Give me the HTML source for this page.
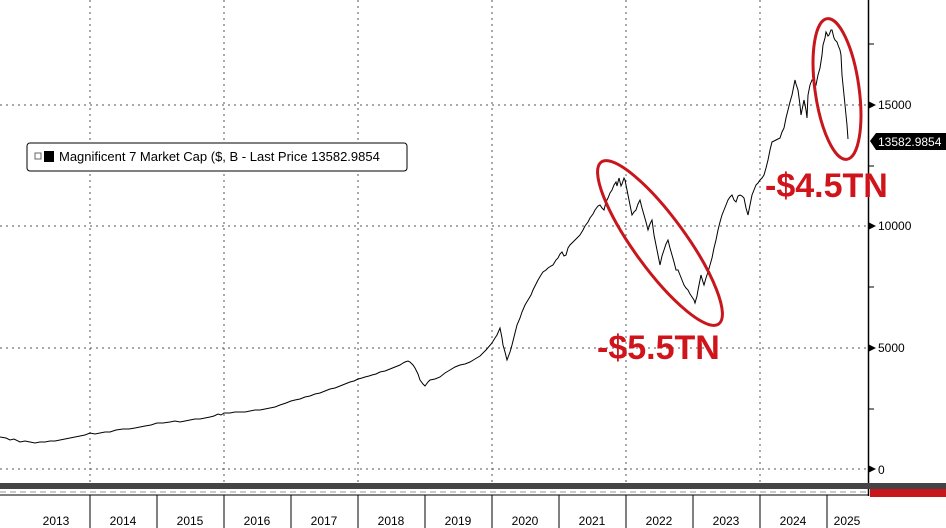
<!DOCTYPE html>
<html><head><meta charset="utf-8"><style>
html,body{margin:0;padding:0;background:#fff;}
svg{display:block;font-family:"Liberation Sans",sans-serif;}
</style></head><body>
<svg width="946" height="528" viewBox="0 0 946 528" xmlns="http://www.w3.org/2000/svg">
<rect width="946" height="528" fill="#fff"/>
<g stroke="#555" stroke-width="1" stroke-dasharray="2,4">
<line x1="0" y1="105" x2="868" y2="105"/>
<line x1="0" y1="226" x2="868" y2="226"/>
<line x1="0" y1="348" x2="868" y2="348"/>
<line x1="0" y1="469" x2="868" y2="469"/>
<line x1="90" y1="0" x2="90" y2="483"/>
<line x1="224" y1="0" x2="224" y2="483"/>
<line x1="358" y1="0" x2="358" y2="483"/>
<line x1="492" y1="0" x2="492" y2="483"/>
<line x1="626" y1="0" x2="626" y2="483"/>
<line x1="760" y1="0" x2="760" y2="483"/>
</g>
<line x1="868.5" y1="0" x2="868.5" y2="496" stroke="#000" stroke-width="1.5"/>
<g stroke="#000">
<line x1="868" y1="44" x2="874" y2="44"/><line x1="868" y1="166" x2="874" y2="166"/>
<line x1="868" y1="287" x2="874" y2="287"/><line x1="868" y1="409" x2="874" y2="409"/>
</g>
<g font-size="12" fill="#000">
<path d="M868 101 L876 105 L868 109Z"/><text x="878" y="109">15000</text>
<path d="M868 222 L876 226 L868 230Z"/><text x="878" y="230">10000</text>
<path d="M868 344 L876 348 L868 352Z"/><text x="878" y="352">5000</text>
<path d="M868 465 L876 469 L868 473Z"/><text x="878" y="474">0</text>
</g>
<path d="M870 141 L876 133 L946 133 L946 150 L876 150Z" fill="#000"/>
<text x="878" y="146" font-size="12" fill="#fff">13582.9854</text>
<rect x="27" y="143" width="380" height="28" rx="3" fill="#fff" stroke="#000"/>
<rect x="35" y="153" width="6" height="6" fill="none" stroke="#666"/>
<rect x="44" y="151" width="10" height="11" fill="#000"/>
<text x="59" y="161" font-size="13" fill="#000">Magnificent 7 Market Cap ($, B - Last Price 13582.9854</text>
<polyline fill="none" stroke="#000" stroke-width="1" points="0,437 6,438 10,440 14,439 20,442 25,441 30,442 35,443 40,442 45,442 50,441 55,441 60,440 65,439 70,438 75,437 80,436 85,435 90,433 95,434 100,433 105,432 110,432 116,430 123,429 129,429 135,428 140,427 145,426 151,425 157,423 163,423 170,422 175,421 180,422 185,421 190,420 195,419 200,419 205,418 210,417 214,416 218,414 221,415 224,413 230,413 235,412 240,412 245,412 250,411 255,410 260,410 265,409 270,408 275,407 280,405 286,403 291,401 295,400 300,399 305,397 310,396 315,394 320,393 325,391 330,389 335,388 340,386 345,384 350,382 354,381 358,379 362,378 365,377 369,376 372,375 376,374 380,372 385,371 390,369 395,367 400,365 403,363 405,362 408,361 410,362 413,365 415,368 418,374 420,380 423,384 425,386 428,382 430,380 435,379 440,377 445,373 450,370 455,367 460,365 465,364 470,362 475,359 480,356 486,350 492,343 495,338 497,335 500,328 502,338 503,345 505,352 507,360 510,352 512,345 515,333 517,325 520,318 522,312 525,305 528,300 531,295 533,290 536,284 538,280 541,275 543,272 546,270 548,268 551,266 553,265 556,260 558,258 560,254 562,252 564,256 566,255 568,248 570,245 573,242 575,240 578,237 580,235 583,230 585,226 588,222 590,218 593,214 595,210 598,206 600,205 602,208 604,210 606,202 608,198 610,193 612,190 614,185 616,182 617,186 619,178 621,186 622,184 624,178 625,180 627,190 628,195 630,205 632,215 634,212 636,210 638,204 640,200 642,208 644,215 646,222 648,230 650,224 652,220 654,235 656,245 658,255 660,265 662,256 664,250 666,244 668,240 670,248 672,255 674,262 676,270 678,270 680,275 682,280 684,285 686,288 688,290 690,294 692,297 694,300 695,303 697,296 698,290 700,280 701,275 703,282 704,285 706,278 708,272 710,265 712,258 714,248 716,240 718,230 720,222 722,215 724,210 726,205 728,200 730,197 732,195 734,200 736,202 738,196 740,195 742,196 744,198 746,208 748,215 750,205 752,195 754,190 756,185 758,183 760,180 762,178 764,175 766,168 768,160 770,150 772,142 774,141 776,140 778,139 780,138 782,132 784,128 786,118 788,110 790,102 792,95 794,85 795,80 796,84 798,90 800,105 801,115 803,105 804,100 806,110 807,118 808,95 810,85 812,80 814,82 816,85 818,75 820,68 822,55 823,45 825,38 826,32 828,36 829,35 831,30 832,30 834,38 835,40 837,42 838,45 840,50 841,55 842,75 844,95 845,105 846,115 847,125 848,139"/>
<g fill="none" stroke="#c8161d" stroke-width="3">
<ellipse cx="660" cy="243" rx="100" ry="26" transform="rotate(54 660 243)"/>
<ellipse cx="837" cy="89" rx="71" ry="22" transform="rotate(82 837 89)"/>
</g>
<g font-size="34" font-weight="bold" fill="#d0141b">
<text x="597" y="359">-$5.5TN</text>
<text x="765" y="197">-$4.5TN</text>
</g>
<rect x="0" y="483" width="946" height="6" fill="#444"/>
<line x1="0" y1="495" x2="868" y2="495" stroke="#000"/>
<line x1="0" y1="492" x2="868" y2="492" stroke="#999" stroke-dasharray="6,4"/>
<path d="M870 489 L946 489 L946 497 L870 497Z" fill="#c8161d"/>
<g stroke="#000">
<line x1="90" y1="495" x2="90" y2="528"/><line x1="157" y1="495" x2="157" y2="528"/>
<line x1="224" y1="495" x2="224" y2="528"/><line x1="291" y1="495" x2="291" y2="528"/>
<line x1="358" y1="495" x2="358" y2="528"/><line x1="425" y1="495" x2="425" y2="528"/>
<line x1="492" y1="495" x2="492" y2="528"/><line x1="559" y1="495" x2="559" y2="528"/>
<line x1="626" y1="495" x2="626" y2="528"/><line x1="693" y1="495" x2="693" y2="528"/>
<line x1="760" y1="495" x2="760" y2="528"/><line x1="827" y1="495" x2="827" y2="528"/>
</g>
<g font-size="12" fill="#000" text-anchor="middle">
<text x="56" y="525">2013</text><text x="123" y="525">2014</text><text x="190" y="525">2015</text>
<text x="257" y="525">2016</text><text x="324" y="525">2017</text><text x="391" y="525">2018</text>
<text x="458" y="525">2019</text><text x="525" y="525">2020</text><text x="592" y="525">2021</text>
<text x="659" y="525">2022</text><text x="726" y="525">2023</text><text x="793" y="525">2024</text>
<text x="847" y="525">2025</text>
</g>
</svg>
</body></html>
